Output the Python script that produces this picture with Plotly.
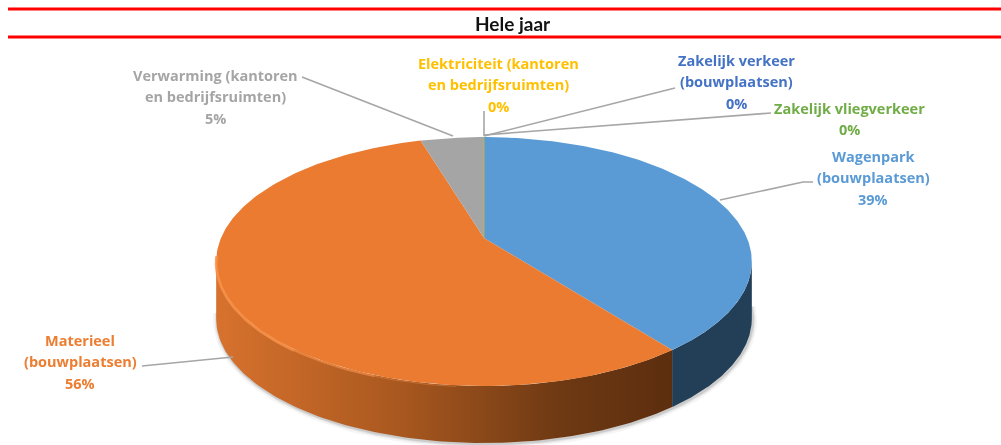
import numpy as np
import plotly.graph_objects as go

# ---- data ----
categories = ["Wagenpark (bouwplaatsen)", "Materieel (bouwplaatsen)",
              "Verwarming (kantoren en bedrijfsruimten)",
              "Elektriciteit (kantoren en bedrijfsruimten)",
              "Zakelijk verkeer (bouwplaatsen)", "Zakelijk vliegverkeer"]
values = [39.6, 55.8, 4.6, 0.05, 0.0, 0.05]
percent_labels = ["39%", "56%", "5%", "0%", "0%", "0%"]
title_text = "Hele jaar"

# ---- styles / layout ----
top_colors = ["#5B9BD5", "#EA7B30", "#A5A5A5", "#FFC000", "#4472C4", "#70AD47"]
label_colors = ["#5B9BD5", "#ED7D31", "#A5A5A5", "#FFC000", "#4472C4", "#70AD47"]
label_lines = [["Wagenpark", "(bouwplaatsen)"], ["Materieel", "(bouwplaatsen)"],
               ["Verwarming (kantoren", "en bedrijfsruimten)"],
               ["Elektriciteit (kantoren", "en bedrijfsruimten)"],
               ["Zakelijk verkeer", "(bouwplaatsen)"], ["Zakelijk vliegverkeer"]]
label_x = [873, 80, 215, 498, 736, 849]
label_y0 = [156, 340, 75, 63, 60, 108]
LINE_STEP = 21.5
leaders = [[(720, 200), (803, 182), (813, 182)], [(142, 366), (233, 357)], [(302, 77), (453, 136)],
           [(484, 136), (484, 111)], [(484, 136), (675, 88)], [(484, 135), (771, 113)]]
CX, CY, R, A, K, DEPTH = 484, 238, 263, 120, 0.189, 57
FONT = "'Open Sans', sans-serif"


def project(theta):
    u, v = np.sin(theta), np.cos(theta)
    w = 1 + K * v
    return CX + R * u / w, CY - A * v / w


edges = np.radians(np.concatenate([[0], np.cumsum(values)]) * 3.6)
traces = []


def poly(x, y, color=None, gradient=None):
    kw = dict(fillgradient=gradient) if gradient else dict(fillcolor=color)
    traces.append(go.Scatter(x=x, y=y, mode="lines", fill="toself", line=dict(width=0),
                             hoverinfo="skip", showlegend=False, **kw))


def side(t0, t1, color=None, gradient=None):
    t = np.linspace(t0, t1, 120)
    x, y = project(t)
    poly(np.r_[x, x[::-1]], np.r_[y, y[::-1] + DEPTH], color, gradient)


# soft shadow below the disc
t = np.linspace(np.radians(95), np.radians(262), 200)
sx, sy = project(t)
for width, alpha in [(9, 0.04), (5, 0.07), (2.5, 0.1)]:
    traces.append(go.Scatter(x=sx + 1, y=sy + DEPTH + 1, mode="lines",
                             line=dict(color=f"rgba(0,0,0,{alpha})", width=width),
                             hoverinfo="skip", showlegend=False))

# side walls
side(np.radians(101), edges[1], color="#223F57")
side(edges[1], np.radians(259), gradient=dict(
    type="horizontal", start=215, stop=675,
    colorscale=[[0, "#D8722E"], [0.4, "#A9581F"], [0.75, "#6E3913"], [1, "#5C2E0F"]]))

# top faces
for i in range(len(values)):
    if values[i] <= 0:
        continue
    t = np.linspace(edges[i], edges[i + 1], 200)
    x, y = project(t)
    poly(np.r_[CX, x, CX], np.r_[CY, y, CY], top_colors[i])
# sliver for the near-zero slice
x0, y0 = project(np.array([edges[3]]))
traces.append(go.Scatter(x=[CX, x0[0]], y=[CY, y0[0]], mode="lines",
                         line=dict(color="#B8B24A", width=1), hoverinfo="skip", showlegend=False))

# bevel highlight on the orange rim, tapering toward the front
for start_deg, hl_width, hl_alpha in [(185, 1.2, 0.35), (200, 2.0, 0.5), (218, 3.0, 0.7)]:
    t = np.linspace(np.radians(start_deg), np.radians(262), 120)
    bx, by = project(t)
    traces.append(go.Scatter(x=bx, y=by + 1.2, mode="lines",
                             line=dict(color=f"rgba(247,146,74,{hl_alpha})", width=hl_width),
                             hoverinfo="skip", showlegend=False))

# leader lines
for seg in leaders:
    traces.append(go.Scatter(x=[p[0] for p in seg], y=[p[1] for p in seg], mode="lines",
                             line=dict(color="#A6A6A6", width=1.6), hoverinfo="skip", showlegend=False))

fig = go.Figure(traces)

annotations = []
for lines, pct, lx, ly, c in zip(label_lines, percent_labels, label_x, label_y0, label_colors):
    for j, txt in enumerate(lines + [pct]):
        annotations.append(dict(x=lx, y=ly + j * LINE_STEP, xref="x", yref="y", showarrow=False,
                                text=f"<b>{txt}</b>", font=dict(family=FONT, size=14.5, color=c)))
annotations.append(dict(x=513, y=23, xref="x", yref="y", showarrow=False,
                        text=f"<b>{title_text}</b>",
                        font=dict(family="Lato, sans-serif", size=19, color="#111111")))

rules = [dict(type="line", xref="x", yref="y", x0=8, x1=1001, y0=yy, y1=yy,
              line=dict(color="#FF0000", width=3)) for yy in (9, 37)]

fig.update_layout(
    width=1001, height=445, margin=dict(l=0, r=0, t=0, b=0),
    paper_bgcolor="white", plot_bgcolor="white", showlegend=False,
    xaxis=dict(range=[0, 1001], visible=False, fixedrange=True),
    yaxis=dict(range=[445, 0], visible=False, fixedrange=True),
    annotations=annotations, shapes=rules,
)
fig.write_html("out.html", config=dict(displayModeBar=False),
               post_script="document.body.style.margin='0';document.body.style.overflow='hidden';"
                           "document.getElementById('{plot_id}').style.filter='blur(0.55px)';")
